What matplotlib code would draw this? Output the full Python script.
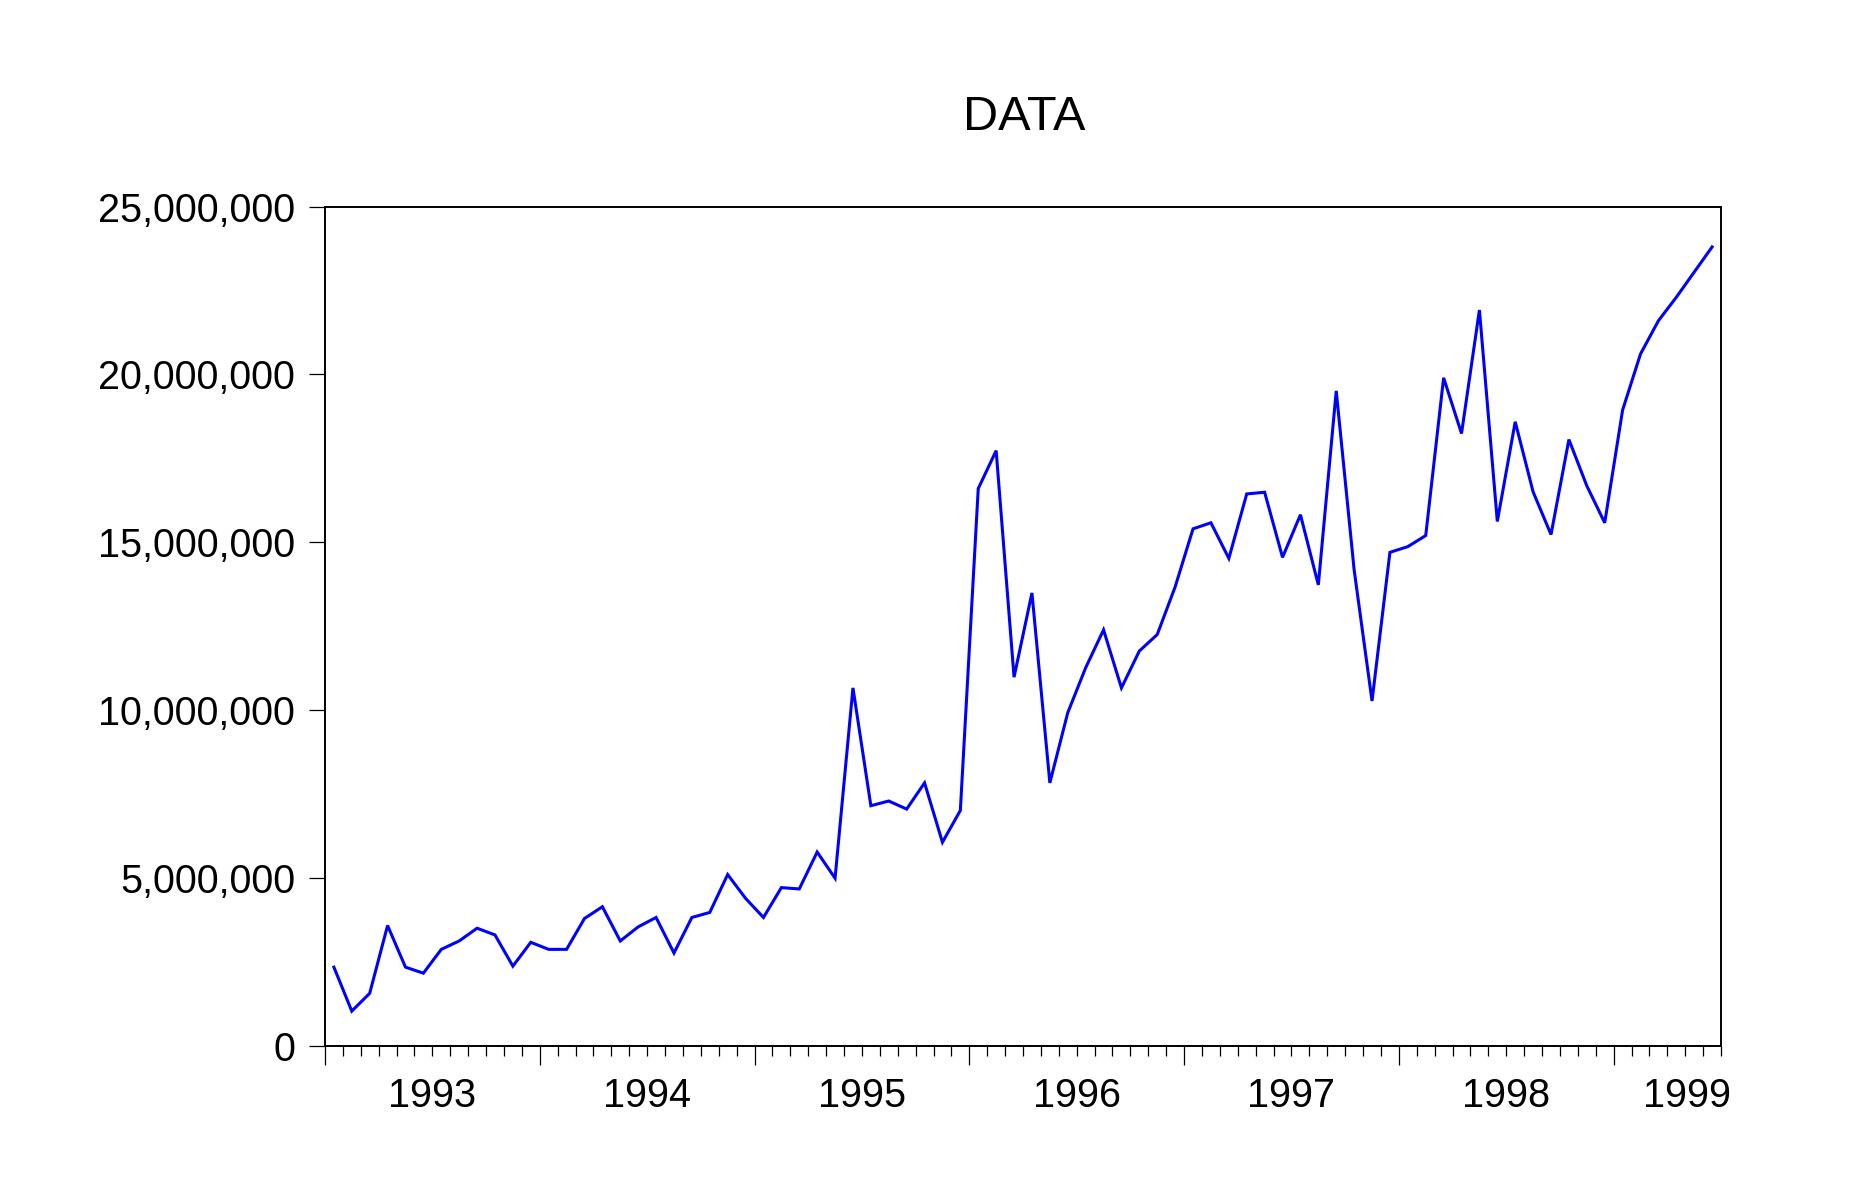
#!/usr/bin/env python3

import matplotlib
matplotlib.use("Agg")
import matplotlib.pyplot as plt
from matplotlib.ticker import FuncFormatter, MultipleLocator, FixedLocator


# monthly series, Jan 1993 .. Jun 1999
i_start_year = 1993
l_values = [
    2.34, 1.03, 1.56, 3.58, 2.34, 2.16, 2.87, 3.12, 3.50, 3.30, 2.37, 3.08,      # 1993
    2.87, 2.87, 3.79, 4.14, 3.12, 3.54, 3.82, 2.76, 3.82, 3.97, 5.10, 4.39,      # 1994
    3.82, 4.71, 4.67, 5.77, 4.99, 10.66, 7.15, 7.29, 7.05, 7.83, 6.06, 7.01,     # 1995
    16.60, 17.73, 10.98, 13.49, 7.83, 9.92, 11.26, 12.39, 10.66, 11.76, 12.25, 13.67,  # 1996
    15.40, 15.58, 14.52, 16.44, 16.49, 14.55, 15.82, 13.73, 19.51, 14.18, 10.27, 14.70,  # 1997
    14.87, 15.20, 19.90, 18.24, 21.92, 15.62, 18.59, 16.50, 15.23, 18.06, 16.68, 15.58,  # 1998
    18.94, 20.61, 21.60, 22.30, 23.05, 23.80,                                   # 1999
]
l_values = [v * 1e6 for v in l_values]
l_year_labels = ["1993", "1994", "1995", "1996", "1997", "1998", "1999"]
s_title = "DATA"

i_n = len(l_values)
l_x = [i + 0.5 for i in range(i_n)]

plt.rcParams['font.family'] = ['Liberation Sans', 'DejaVu Sans']

fig = plt.figure(figsize=(18.6, 12.0), dpi=100)
ax = fig.add_axes([0.1747, 0.1286, 0.9253 - 0.1747, 0.8278 - 0.1286])

ax.plot(l_x, l_values, color=(0, 0, 1), lw=2.2, solid_joinstyle='miter')

ax.set_xlim(0, i_n)
ax.set_ylim(0, 25e6)

# y axis
ax.yaxis.set_major_locator(MultipleLocator(5e6))
ax.yaxis.set_major_formatter(FuncFormatter(lambda v, p: "{:,.0f}".format(v)))
ax.tick_params(axis='y', which='major', direction='out', length=11.5, width=0.9,
               pad=10, labelsize=28.5, right=False)

# x axis: long ticks at year boundaries, short ticks every month
ax.xaxis.set_major_locator(FixedLocator(list(range(0, i_n, 12))))
ax.xaxis.set_minor_locator(FixedLocator(list(range(0, i_n + 1))))
ax.xaxis.set_major_formatter(FuncFormatter(lambda v, p: ""))
ax.tick_params(axis='x', which='major', direction='out', length=13.5, width=0.9, top=False)
ax.tick_params(axis='x', which='minor', direction='out', length=7.2, width=0.9, top=False)

for s_side in ax.spines:
    ax.spines[s_side].set_linewidth(1.4)

# year labels, centred on each year; the last (partial) one pulled to the edge
for i_k, s_lab in enumerate(l_year_labels):
    f_mid = 12 * i_k + 6
    if f_mid + 6 > i_n:
        ax.annotate(s_lab, xy=(i_n, 0), xycoords=('data', 'axes fraction'),
                    xytext=(7, -22.5), textcoords='offset points',
                    ha='right', va='top', fontsize=28.5)
    else:
        ax.annotate(s_lab, xy=(f_mid, 0), xycoords=('data', 'axes fraction'),
                    xytext=(0, -22.5), textcoords='offset points',
                    ha='center', va='top', fontsize=28.5)

fig.text(0.5505, 1 - 118 / 1200, s_title, ha='center', va='center', fontsize=35)

fig.savefig("out.png", dpi=100, facecolor='white')
